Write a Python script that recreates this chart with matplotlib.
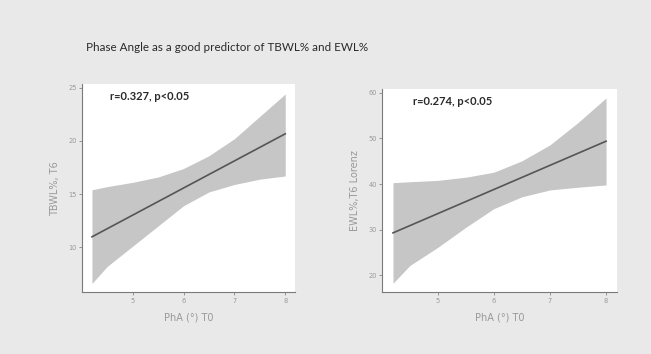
import matplotlib
matplotlib.use('Agg')
import matplotlib.pyplot as plt
import numpy as np

# data
pha = [4.2, 4.5, 5.0, 5.5, 6.0, 6.5, 7.0, 7.5, 8.0]
tbwl_upper = [15.4, 15.7, 16.1, 16.6, 17.4, 18.6, 20.2, 22.3, 24.4]
tbwl_lower = [6.6, 8.2, 10.1, 12.0, 13.9, 15.2, 15.9, 16.4, 16.7]
tbwl_fit = [10.98, 20.66]
ewl_upper = [40.3, 40.5, 40.8, 41.5, 42.6, 45.1, 48.6, 53.5, 58.9]
ewl_lower = [18.2, 22.1, 26.1, 30.5, 34.6, 37.2, 38.7, 39.3, 39.8]
ewl_fit = [29.27, 49.4]
fit_x = [4.2, 8.0]

x_ticks = [5, 6, 7, 8]
tbwl_ticks = [10, 15, 20, 25]
ewl_ticks = [20, 30, 40, 50, 60]

title = "Phase Angle as a good predictor of TBWL% and EWL%"
bg = '#e9e9e9'

fig = plt.figure(figsize=(6.51, 3.54), dpi=100, facecolor=bg)
fig.text(0.132, 0.867, title, fontsize=8.4, family='Lato', color='#2a2a2a', va='center')

def panel(rect, upper, lower, fit, yticks, ylim, ylabel, note):
    ax = fig.add_axes(rect)
    ax.set_facecolor('white')
    ax.fill_between(pha, lower, upper, color='#c6c6c6', lw=0)
    ax.plot(fit_x, fit, color='#555555', lw=1.2)
    ax.set_xlim(4.01, 8.19)
    ax.set_ylim(*ylim)
    ax.set_xticks(x_ticks)
    ax.set_yticks(yticks)
    for s in ['top', 'right']:
        ax.spines[s].set_visible(False)
    for s in ['left', 'bottom']:
        ax.spines[s].set_color('#7a7a7a')
        ax.spines[s].set_linewidth(0.8)
    ax.tick_params(length=2, width=0.6, color='#888888', labelsize=4.8,
                   labelcolor='#999999', pad=2)
    ax.set_xlabel("PhA (°) T0", fontsize=7, color='#999999', labelpad=6)
    ax.set_ylabel(ylabel, fontsize=7, color='#999999', labelpad=6)
    ax.text(0.13, 0.94, note, transform=ax.transAxes, fontsize=8,
            family='Lato', fontweight='bold', color='#2a2a2a', va='center')
    return ax

panel([0.1264, 0.174, 0.3266, 0.589], tbwl_upper, tbwl_lower, tbwl_fit,
      tbwl_ticks, (5.76, 25.35), "TBWL%, T6", "r=0.327, p<0.05")
panel([0.5873, 0.174, 0.36, 0.575], ewl_upper, ewl_lower, ewl_fit,
      ewl_ticks, (16.2, 60.9), "EWL%,T6 Lorenz", "r=0.274, p<0.05")

fig.savefig('out.png', dpi=100, facecolor=bg)
